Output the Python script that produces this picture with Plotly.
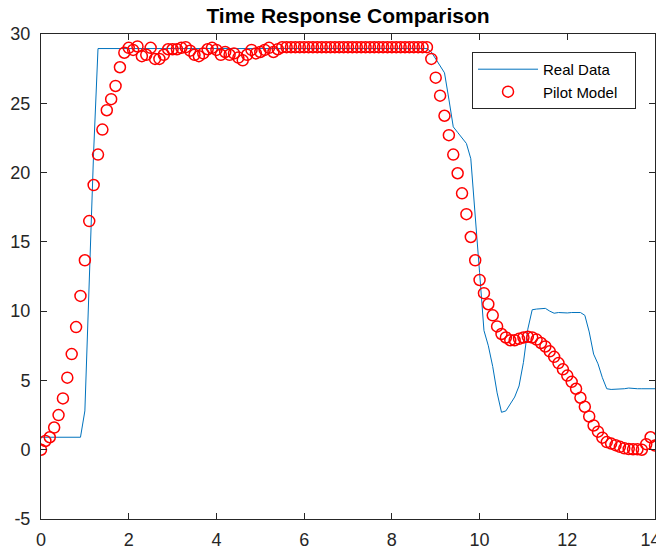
import numpy as np
import plotly.graph_objects as go

# time grid (s), 0.1 s step as sampled in the figure
time = [round(0.1 * i, 1) for i in range(141)]

real_data = (
    [0.9] * 10 +                                   # 0.0 - 0.9
    [2.8, 12.0, 21.5] +                            # 1.0 - 1.2
    [28.95] * 76 +                                 # 1.3 - 8.8
    [28.7, 28.2, 27.7, 27.2, 25.3, 23.3, 22.9, 22.5, 22.1, 21.0, 17.2] +  # 8.9 - 9.9
    [12.8, 8.6, 7.5, 6.0, 4.1, 2.7, 2.8, 3.3, 3.8, 4.6] +                  # 10.0 - 10.9
    [6.3, 8.7, 10.1, 10.15, 10.2, 10.2, 10.0, 9.85, 9.9, 9.88] +           # 11.0 - 11.9
    [9.87, 9.9, 9.9, 9.9, 9.7, 8.5, 6.9, 6.2, 5.2, 4.4] +                  # 12.0 - 12.9
    [4.35, 4.35, 4.4, 4.4, 4.45, 4.4, 4.4, 4.4, 4.4, 4.4, 4.4]             # 13.0 - 14.0
)

pilot_model = (
    [0.0, 0.63, 0.9, 1.6, 2.5, 3.7, 5.2, 6.9, 8.85, 11.1] +                # 0.0 - 0.9
    [13.67, 16.5, 19.1, 21.3, 23.1, 24.5, 25.3, 26.25, 27.6, 28.65] +      # 1.0 - 1.9
    [29.0, 28.85, 29.1, 28.4, 28.5, 29.0, 28.2, 28.2, 28.5, 28.9] +        # 2.0 - 2.9
    [28.9, 28.9, 29.0, 29.05, 28.8, 28.5, 28.4, 28.6, 28.9, 29.0] +        # 3.0 - 3.9
    [28.85, 28.5, 28.7, 28.5, 28.6, 28.3, 28.1, 28.5, 28.85, 28.6] +       # 4.0 - 4.9
    [28.7, 28.85, 29.0, 28.7, 28.9] +                                       # 5.0 - 5.4
    [29.05] * 34 +                                                          # 5.5 - 8.8
    [28.2, 26.85, 25.55, 24.1, 22.7, 21.3, 19.95, 18.5, 17.0, 15.35, 13.67] +  # 8.9 - 9.9
    [12.25, 11.3, 10.5, 9.7, 8.9, 8.35, 8.1, 7.9, 7.9, 8.0] +              # 10.0 - 10.9
    [8.1, 8.15, 8.1, 7.95, 7.7, 7.45, 7.1, 6.7, 6.25, 5.8] +               # 11.0 - 11.9
    [5.35, 4.9, 4.4, 3.75, 3.1, 2.4, 1.75, 1.3, 0.87, 0.55] +              # 12.0 - 12.9
    [0.44, 0.33, 0.21, 0.1, 0.05, 0.03, 0.03, 0.0, 0.4, 0.9, 0.3]          # 13.0 - 14.0
)

x_ticks = [0, 2, 4, 6, 8, 10, 12, 14]
x_tick_labels = ["0", "2", "4", "6", "8", "10", "12", "14\u2002\u200b"]
y_ticks = [-5, 0, 5, 10, 15, 20, 25, 30]
y_tick_labels = ["-5", "0", "5", "10", "15", "20", "25", "30"]

TAIL = "\u00a0" * 3

fig = go.Figure()
fig.add_trace(go.Scatter(
    x=time, y=real_data, mode="lines", name="Real Data" + TAIL,
    line=dict(color="#0072BD", width=1),
))
fig.add_trace(go.Scatter(
    x=time, y=pilot_model, mode="markers", name="Pilot Model" + TAIL,
    marker=dict(symbol="circle-open", color="#FF0000", size=11,
                line=dict(width=1.5, color="#FF0000")),
))

axis_common = dict(
    showline=True, linecolor="#262626", linewidth=1, mirror="ticks",
    ticks="inside", ticklen=6, tickwidth=1, tickcolor="#262626",
    showgrid=False, zeroline=False, automargin=False,
    tickfont=dict(family="Liberation Sans, Arial", size=18, color="#262626"),
)

# the page body has an 8 px margin, so the margins are set to compensate
fig.update_layout(
    width=664, height=550,
    margin=dict(l=33, r=17, t=26, b=39),
    paper_bgcolor="white", plot_bgcolor="white",
    title=dict(text="<b>Time Response Comparison</b>", x=0.5, xref="paper",
               xanchor="center", y=1, yanchor="top", pad=dict(t=0, b=0),
               font=dict(family="Liberation Sans, Arial", size=21, color="black")),
    xaxis=dict(range=[0, 14], tickvals=x_ticks, ticktext=x_tick_labels,
               ticklabelstandoff=4, **axis_common),
    yaxis=dict(range=[-5, 30], tickvals=y_ticks, ticktext=y_tick_labels,
               ticklabelstandoff=6, **axis_common),
    legend=dict(x=0.702, y=0.963, xanchor="left", yanchor="top",
                bgcolor="white", bordercolor="#262626", borderwidth=1,
                itemwidth=60,
                font=dict(family="Liberation Sans, Arial", size=15, color="black"),
                tracegroupgap=0),
    showlegend=True,
)

fig.write_html("out.html")
